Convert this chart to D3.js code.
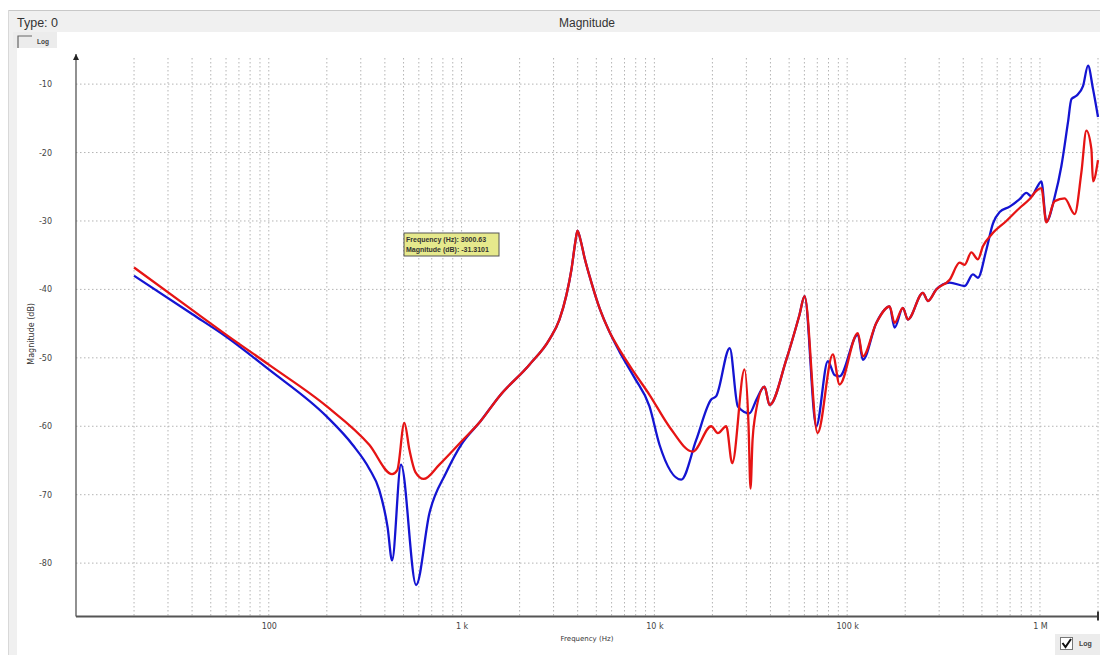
<!DOCTYPE html>
<html><head><meta charset="utf-8">
<script src="https://cdn.jsdelivr.net/npm/d3@7"></script>
<style>
html,body{margin:0;padding:0;background:#fff;}
svg{display:block;font-family:"Liberation Sans",Arial,sans-serif;}
</style></head>
<body>
<svg id="chart" width="1100" height="655"></svg>
<script>
// ---- data (frequency in Hz, magnitude in dB) ----
const blueFreq = [20,40,60,100,200,272,332,374,413,436,485,581,681,831,1000,1250,
  1571,2248,2856,3217,3499,3714,3894,3989,4133,4337,4716,5189,5848,6591,7884,9432,
  10630,13770,16480,19710,20930,24600,27090,31150,33850,37260,39570,48300,56600,60110,
  69130,79400,86000,91300,113600,120600,141600,166000,176200,194500,206500,247100,262300,
  290100,340100,406700,449000,476600,527200,570200,617800,696200,784500,850200,902400,
  972700,1016700,1079600,1192000,1291000,1397000,1456000,1545000,1672000,1775000,1884000,2000000];
const blueDb = [-38.0,-43.6,-46.9,-51.7,-58.6,-62.7,-66.2,-69.3,-74.7,-79.6,-65.6,-83.2,-72.7,-66.8,-62.6,-59.3,
  -55.6,-51.0,-47.3,-44.4,-40.8,-37.1,-33.0,-31.4,-32.7,-35.3,-39.0,-42.7,-46.2,-49.1,-52.9,-57.1,
  -62.7,-67.8,-62.0,-56.1,-55.6,-48.6,-57.1,-58.1,-56.1,-54.2,-56.9,-50.3,-43.7,-41.0,
  -60.0,-50.5,-52.5,-52.7,-46.6,-50.3,-44.9,-42.5,-45.6,-42.7,-44.4,-40.5,-41.7,
  -40.0,-39.0,-39.5,-37.8,-38.3,-34.2,-30.4,-28.7,-27.9,-26.8,-25.9,-26.4,
  -24.9,-24.2,-30.1,-26.5,-22.0,-15.6,-12.2,-11.7,-10.3,-7.3,-10.7,-14.8];

const redFreq = [20,40,60,100,200,332,436,464,505,536,576,636,767,1000,1250,
  1571,2248,2856,3217,3499,3714,3894,3989,4133,4337,4716,5189,5848,6591,7884,9432,
  11980,15820,19710,21330,23590,25330,29350,30800,31520,32300,33070,37260,39570,48300,56600,60110,
  70200,84300,91300,113600,120600,141600,166000,176200,194500,206500,247100,262300,
  290100,340100,383100,406700,440600,476600,506000,559500,669300,784500,884300,957900,
  1016700,1079600,1192000,1343000,1514000,1640000,1741000,1848000,1884000,2000000];
const redDb = [-36.8,-43.0,-46.6,-51.0,-57.1,-62.7,-67.0,-66.4,-59.5,-63.4,-66.7,-67.7,-65.6,-62.2,-59.3,
  -55.6,-51.0,-47.3,-44.4,-40.8,-37.1,-33.0,-31.4,-32.7,-35.3,-39.0,-42.7,-46.2,-48.8,-52.2,-55.4,
  -60.1,-63.7,-60.0,-61.0,-60.0,-65.4,-51.7,-60.0,-69.1,-62.0,-59.1,-54.2,-56.9,-50.3,-43.7,-41.0,
  -61.0,-49.5,-53.9,-46.4,-49.8,-44.9,-42.5,-44.9,-42.7,-44.4,-40.5,-41.7,
  -40.0,-38.6,-36.1,-36.4,-34.6,-35.6,-33.7,-32.0,-30.0,-28.1,-26.8,-25.6,
  -25.2,-30.2,-27.1,-26.7,-29.0,-22.9,-16.8,-19.5,-24.2,-21.1];

const yTicks = [-10,-20,-30,-40,-50,-60,-70,-80];
const xTicks = [100,1000,10000,100000,1000000];
const xTickLabels = ["100","1 k","10 k","100 k","1 M"];
const xDomain = [10, 2000000];
const yDomain = [-87.8, -5.6];
const tooltipLines = ["Frequency (Hz): 3000.63", "Magnitude (dB): -31.3101"];

// ---- layout ----
const svg = d3.select("#chart");
const plot = {left: 76, right: 1098, top: 54, bottom: 616.5};

const x = d3.scaleLog().domain(xDomain).range([plot.left, plot.right]);
const y = d3.scaleLinear().domain(yDomain).range([plot.bottom, plot.top]);

// frame / header
svg.append("rect").attr("x",0).attr("y",0).attr("width",1100).attr("height",655).attr("fill","#fff");
svg.append("rect").attr("x",8).attr("y",10).attr("width",9).attr("height",645).attr("fill","#f0f0f0");
svg.append("rect").attr("x",8).attr("y",10).attr("width",1092).attr("height",22).attr("fill","#f0f0f0");
svg.append("line").attr("x1",8).attr("x2",1100).attr("y1",10.5).attr("y2",10.5).attr("stroke","#c8c8c8");
svg.append("line").attr("x1",8.5).attr("x2",8.5).attr("y1",10).attr("y2",655).attr("stroke","#d8d8d8");
svg.append("text").attr("x",17).attr("y",27).attr("font-size",12.5).attr("fill","#333").text("Type: 0");
svg.append("text").attr("x",587).attr("y",27).attr("text-anchor","middle").attr("font-size",12).attr("fill","#333").text("Magnitude");

// top-left Log checkbox
svg.append("rect").attr("x",13).attr("y",32).attr("width",44).attr("height",16).attr("fill","#ececec");
svg.append("path").attr("d","M18,48 V36 H32").attr("fill","none").attr("stroke","#666").attr("stroke-width",1.2);
svg.append("text").attr("x",37).attr("y",44).attr("font-size",6.5).attr("font-weight","bold").attr("fill","#444").text("Log");

// grid
const gridX = [];
for (let d = 10; d < 2000000; d *= 10) for (let k = 1; k <= 9; k++) { const v = d*k; if (v > 10 && v <= 2000000) gridX.push(v); }
svg.append("g").selectAll("line").data(gridX).join("line")
  .attr("x1",d=>x(d)).attr("x2",d=>x(d)).attr("y1",plot.top+4).attr("y2",plot.bottom)
  .attr("stroke","#b4b4b4").attr("stroke-width",1).attr("stroke-dasharray","1.5,2.5");
svg.append("g").selectAll("line").data(yTicks).join("line")
  .attr("x1",plot.left).attr("x2",plot.right).attr("y1",d=>y(d)).attr("y2",d=>y(d))
  .attr("stroke","#b4b4b4").attr("stroke-width",1).attr("stroke-dasharray","1.5,2.5");

// axes
const yAxis = d3.axisLeft(y).tickValues(yTicks).tickSize(0).tickPadding(24).tickFormat(d=>d);
const gy = svg.append("g").attr("transform",`translate(${plot.left},0)`).call(yAxis);
gy.select(".domain").remove();
gy.selectAll("text").attr("font-size",8).attr("fill","#444").attr("font-family","DejaVu Sans, sans-serif");

const xAxis = d3.axisBottom(x).tickValues(xTicks).tickSize(0).tickPadding(7).tickFormat((d,i)=>xTickLabels[i]);
const gx = svg.append("g").attr("transform",`translate(0,${plot.bottom})`).call(xAxis);
gx.select(".domain").remove();
gx.selectAll("text").attr("font-size",8).attr("fill","#444").attr("font-family","DejaVu Sans, sans-serif");

svg.append("line").attr("x1",plot.left).attr("x2",plot.left).attr("y1",plot.top).attr("y2",plot.bottom)
  .attr("stroke","#555").attr("stroke-width",1.3);
svg.append("line").attr("x1",plot.left).attr("x2",plot.right).attr("y1",plot.bottom).attr("y2",plot.bottom)
  .attr("stroke","#555").attr("stroke-width",2);
svg.append("path").attr("d",`M${plot.left-3},${plot.top+6} L${plot.left},${plot.top} L${plot.left+3},${plot.top+6} Z`).attr("fill","#222");
svg.append("line").attr("x1",plot.right).attr("x2",plot.right).attr("y1",plot.bottom-5).attr("y2",plot.bottom+4).attr("stroke","#333").attr("stroke-width",2);

svg.append("text").attr("transform",`translate(34,${y(-46.5)}) rotate(-90)`).attr("text-anchor","middle")
  .attr("font-size",8).attr("fill","#333").attr("font-family","DejaVu Sans, sans-serif").text("Magnitude (dB)");
svg.append("text").attr("x",587).attr("y",641).attr("text-anchor","middle")
  .attr("font-size",7).attr("fill","#333").attr("font-family","DejaVu Sans, sans-serif").text("Frequency (Hz)");

// curves
const line = d3.line().x(d=>x(d[0])).y(d=>y(d[1])).curve(d3.curveMonotoneX);
const blue = blueFreq.map((f,i)=>[f,blueDb[i]]);
const red = redFreq.map((f,i)=>[f,redDb[i]]);
svg.append("path").datum(blue).attr("d",line).attr("fill","none").attr("stroke","#1414d2").attr("stroke-width",2.3).attr("stroke-linejoin","round");
svg.append("path").datum(red).attr("d",line).attr("fill","none").attr("stroke","#e61414").attr("stroke-width",2.3).attr("stroke-linejoin","round");

// tooltip
const tip = svg.append("g").attr("transform","translate(404,233)");
tip.append("rect").attr("width",95).attr("height",23).attr("fill","#e6e98c").attr("stroke","#555").attr("stroke-width",1);
tip.selectAll("text").data(tooltipLines).join("text").attr("x",2).attr("y",(d,i)=>9+i*10)
  .attr("font-size",7).attr("font-weight","bold").attr("fill","#333").text(d=>d);

// bottom-right Log checkbox
svg.append("rect").attr("x",1055).attr("y",634).attr("width",45).attr("height",21).attr("fill","#ececec");
svg.append("rect").attr("x",1060.5).attr("y",637.5).attr("width",12).attr("height",12).attr("fill","#fff").attr("stroke","#777");
svg.append("path").attr("d","M1062.5,643 L1065.5,647 L1071,639").attr("fill","none").attr("stroke","#111").attr("stroke-width",2);
svg.append("text").attr("x",1079).attr("y",646).attr("font-size",7).attr("font-weight","bold").attr("fill","#444").text("Log");
</script>
</body></html>
